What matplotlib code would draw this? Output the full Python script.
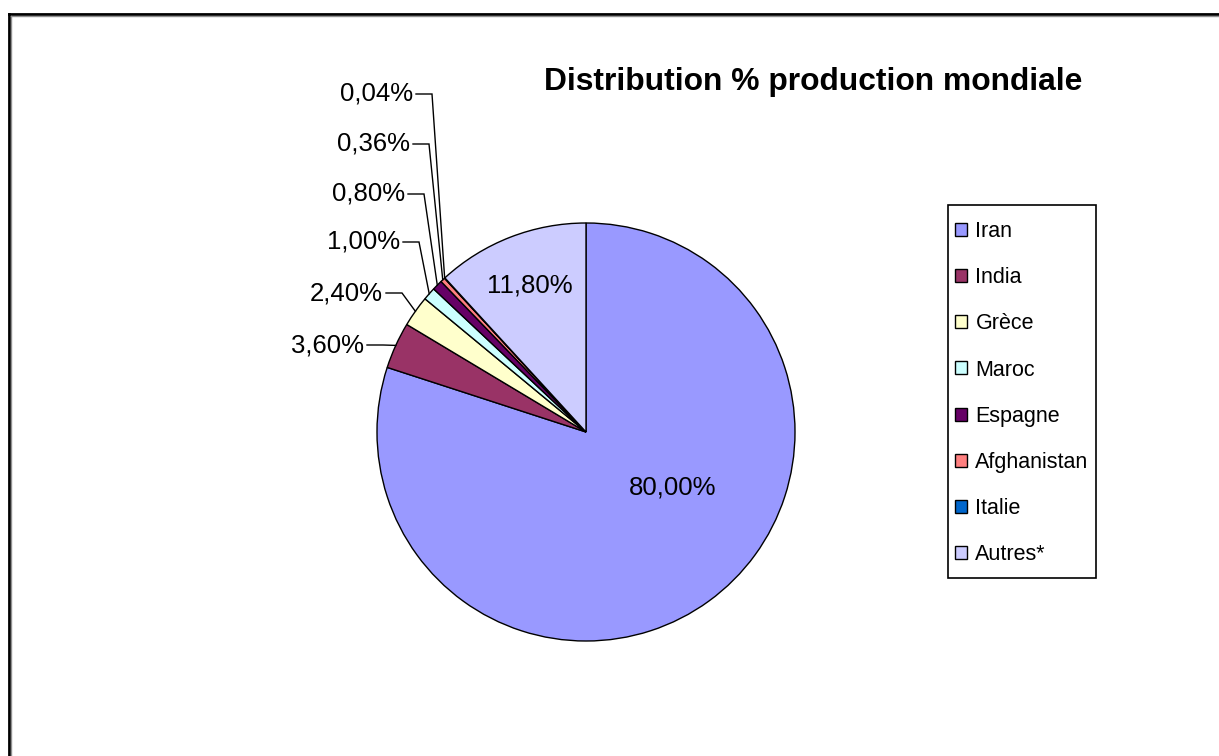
import numpy as np
import matplotlib
matplotlib.use("Agg")
import matplotlib.pyplot as plt
from matplotlib.lines import Line2D
from matplotlib.patches import Rectangle

plt.rcParams["font.family"] = ["Liberation Sans", "DejaVu Sans"]

# --- data ---
countries = ["Iran", "India", "Grèce", "Maroc", "Espagne", "Afghanistan", "Italie", "Autres*"]
shares = [80.00, 3.60, 2.40, 1.00, 0.80, 0.36, 0.04, 11.80]
colors = ["#9999FF", "#993366", "#FFFFCC", "#CCFFFF", "#660066", "#FF8080", "#0066CC", "#CCCCFF"]
title = "Distribution % production mondiale"

W, H = 1219, 756
CX, CY, R = 586, 432, 209  # pie centre / radius in pixels


def px(x, y):
    """pixel position (top-left origin) -> pie data units"""
    return (x - CX) / R, (CY - y) / R


fig = plt.figure(figsize=(W / 100, H / 100), dpi=100)
ax = fig.add_axes([(CX - R) / W, (H - CY - R) / H, 2 * R / W, 2 * R / H])

wedges, _ = ax.pie(shares, colors=colors, startangle=90, counterclock=False,
                   radius=1, wedgeprops=dict(edgecolor="black", linewidth=1.0))
ax.set_xlim(-1, 1)
ax.set_ylim(-1, 1)
ax.set_aspect("equal")
ax.axis("off")

fmt = lambda v: f"{v:.2f}%".replace(".", ",")

# inside labels
inside = {0: (673, 488), 7: (530, 286)}
for i, (x, y) in inside.items():
    ax.text(*px(x, y), fmt(shares[i]), ha="center", va="center", fontsize=18.5)

# outside labels with leader lines (right end of text, pixel coords)
outside = {1: (364, 345), 2: (383, 293), 3: (400, 242), 4: (405, 194), 5: (410, 144), 6: (413, 94)}
for i, (x, y) in outside.items():
    w = wedges[i]
    mid = np.deg2rad((w.theta1 + w.theta2) / 2)
    ex, ey = np.cos(mid), np.sin(mid)
    tx, ty = px(x, y)
    ax.text(tx, ty, fmt(shares[i]), ha="right", va="center", fontsize=18.5)
    x0 = px(x + 3, y)[0]
    elbow = min(px(x + 19, y)[0], ex)
    ax.plot([x0, elbow, ex], [ty, ty, ey], color="black", lw=1.0,
            solid_joinstyle="miter", clip_on=False)

fig.text(544 / W, 1 - 82 / H, title, ha="left", va="center", fontsize=22.9, fontweight="bold")

# legend box drawn by hand so the padding matches the reference
fig.add_artist(Rectangle((948 / W, 1 - 578 / H), (1096 - 948) / W, (578 - 205) / H,
                         transform=fig.transFigure, facecolor="white",
                         edgecolor="black", linewidth=1.2))
leg = fig.legend(wedges, countries, loc="upper left",
                 bbox_to_anchor=(955 / W, 1 - 221 / H), fontsize=15.5,
                 frameon=False, handlelength=0.55, handleheight=0.55,
                 handletextpad=0.4, labelspacing=1.17, borderpad=0, borderaxespad=0)
for h in leg.legend_handles:
    h.set_edgecolor("black")
    h.set_linewidth(1.0)

# outer frame (right and bottom run off the image)
fig.add_artist(Line2D([9 / W, 1], [1 - 14 / H, 1 - 14 / H], color="black", lw=2))
fig.add_artist(Line2D([9 / W, 9 / W], [0, 1 - 14 / H], color="black", lw=2))
fig.add_artist(Line2D([11 / W, 1], [1 - 16 / H, 1 - 16 / H], color="#909090", lw=1))
fig.add_artist(Line2D([11 / W, 11 / W], [0, 1 - 16 / H], color="#909090", lw=1))

fig.savefig("out.png", dpi=100, facecolor="white")
plt.close(fig)
